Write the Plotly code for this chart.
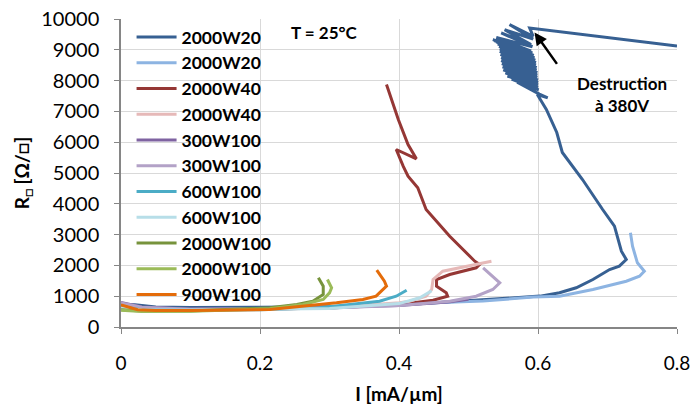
import plotly.graph_objects as go

# ---- data (I in mA/um, R in Ohm/sq) ----
names = ["2000W20", "2000W20", "2000W40", "2000W40", "300W100", "300W100",
         "600W100", "600W100", "2000W100", "2000W100", "900W100"]
colors = ["#376092", "#8DB4E2", "#953735", "#E6B9B8", "#7F63A1", "#B3A2C7",
          "#4BACC6", "#B7DEE8", "#77933C", "#9BBB59", "#E46C0A"]

x_2000W20a = [0, 0.02, 0.05, 0.1, 0.2, 0.3, 0.4, 0.473, 0.545, 0.603, 0.631, 0.655, 0.679, 0.703,
              0.717, 0.727, 0.720, 0.715, 0.710, 0.693, 0.664, 0.635, 0.627, 0.612, 0.599,
              0.614, 0.602, 0.570, 0.601, 0.562, 0.600, 0.556, 0.600, 0.553, 0.600, 0.550, 0.600,
              0.549, 0.599, 0.548, 0.599, 0.547, 0.599, 0.547, 0.598, 0.546, 0.598, 0.545, 0.597,
              0.545, 0.597, 0.544, 0.596, 0.542, 0.595, 0.540, 0.594, 0.537, 0.592, 0.535, 0.590,
              0.540, 0.592, 0.547, 0.590, 0.552, 0.593, 0.559, 0.593, 0.588, 0.8]
y_2000W20a = [720, 720, 650, 630, 640, 660, 712, 809, 906, 1003, 1110, 1273, 1542, 1867,
              1974, 2192, 2461, 2841, 3273, 3815, 4789, 5666, 6315, 7062, 7549,
              7440, 7560, 7950, 7700, 8050, 7780, 8150, 7860, 8250, 7940, 8350, 8020,
              8450, 8100, 8550, 8180, 8650, 8260, 8750, 8340, 8850, 8420, 8950, 8500,
              9030, 8580, 9110, 8660, 9190, 8740, 9260, 8820, 9300, 8900, 9330, 8960,
              9400, 9100, 9550, 9170, 9650, 9350, 9820, 9440, 9710, 9125]

x_2000W20b = [0, 0.03, 0.1, 0.2, 0.3, 0.401, 0.449, 0.521, 0.593, 0.631, 0.679, 0.727, 0.746,
              0.753, 0.743, 0.736, 0.733]
y_2000W20b = [650, 600, 570, 585, 620, 744, 777, 841, 971, 1000, 1218, 1487, 1649,
              1812, 2084, 2623, 3058]

x_2000W40a = [0, 0.03, 0.1, 0.2, 0.3, 0.401, 0.449, 0.470, 0.468, 0.454, 0.454, 0.473, 0.511,
              0.516, 0.509, 0.473, 0.439, 0.427, 0.413, 0.406, 0.396, 0.425, 0.413, 0.399, 0.382]
y_2000W40a = [650, 580, 565, 580, 620, 730, 870, 1000, 1110, 1325, 1542, 1705, 1922,
              2029, 2136, 2948, 3815, 4519, 4896, 5221, 5763, 5461, 5925, 6737, 7873]

x_2000W40b = [0, 0.03, 0.1, 0.2, 0.3, 0.401, 0.415, 0.439, 0.447, 0.449, 0.463, 0.497, 0.533]
y_2000W40b = [620, 570, 560, 580, 630, 786, 838, 1000, 1218, 1542, 1812, 1974, 2136]

x_300W100a = [0, 0.03, 0.1, 0.2, 0.3, 0.4, 0.47, 0.5]
y_300W100a = [800, 650, 585, 595, 630, 700, 810, 900]

x_300W100b = [0, 0.03, 0.1, 0.2, 0.3, 0.401, 0.473, 0.511, 0.535, 0.545, 0.521]
y_300W100b = [780, 640, 575, 585, 620, 698, 838, 1000, 1218, 1435, 1922]

x_600W100a = [0, 0.03, 0.1, 0.2, 0.286, 0.334, 0.372, 0.396, 0.411]
y_600W100a = [640, 560, 545, 560, 623, 730, 838, 1000, 1195]

x_600W100b = [0, 0.03, 0.1, 0.2, 0.3, 0.4, 0.43, 0.447]
y_600W100b = [620, 560, 550, 570, 600, 760, 948, 1180]

x_2000W100a = [0, 0.03, 0.1, 0.214, 0.253, 0.276, 0.291, 0.291, 0.284]
y_2000W100a = [560, 520, 520, 623, 730, 838, 1055, 1325, 1597]

x_2000W100b = [0, 0.03, 0.1, 0.214, 0.262, 0.291, 0.300, 0.303, 0.297]
y_2000W100b = [540, 500, 510, 590, 730, 893, 1110, 1273, 1542]

x_900W100 = [0, 0.024, 0.05, 0.1, 0.214, 0.262, 0.310, 0.348, 0.367, 0.382, 0.379, 0.368]
y_900W100 = [720, 560, 535, 535, 568, 675, 786, 893, 1000, 1325, 1487, 1844]

xs = [x_2000W20a, x_2000W20b, x_2000W40a, x_2000W40b, x_300W100a, x_300W100b,
      x_600W100a, x_600W100b, x_2000W100a, x_2000W100b, x_900W100]
ys = [y_2000W20a, y_2000W20b, y_2000W40a, y_2000W40b, y_300W100a, y_300W100b,
      y_600W100a, y_600W100b, y_2000W100a, y_2000W100b, y_900W100]

x_ticks = [0, 0.2, 0.4, 0.6, 0.8]
x_tick_text = ["0", "0.2", "0.4", "0.6", "0.8"]
y_ticks = [0, 1000, 2000, 3000, 4000, 5000, 6000, 7000, 8000, 9000, 10000]
y_tick_text = ["0", "1000", "2000", "3000", "4000", "5000", "6000", "7000", "8000", "9000", "10000"]

FONT = "Lato, 'Open Sans', sans-serif"

fig = go.Figure()
for n, c, x, y in zip(names, colors, xs, ys):
    fig.add_trace(go.Scatter(x=x, y=y, mode="lines", name=n,
                             line=dict(color=c, width=3)))

fig.add_annotation(x=0.293, y=9560, text="<b>T = 25°C</b>", showarrow=False,
                   font=dict(family=FONT, size=17, color="#000"))
fig.add_annotation(x=0.7215, y=7560, text="<b>Destruction<br>à 380V</b>", showarrow=False,
                   font=dict(family=FONT, size=17, color="#000"))
fig.add_annotation(x=0.595, y=9565, ax=0.633, ay=8360, xref="x", yref="y",
                   axref="x", ayref="y", text=" ", showarrow=True,
                   arrowhead=2, arrowsize=1, arrowwidth=2.5, arrowcolor="#000")

fig.update_layout(
    width=693, height=407,
    margin=dict(l=121, r=16, t=19, b=80, autoexpand=False),
    paper_bgcolor="white", plot_bgcolor="white",
    font=dict(family=FONT, size=20, color="#000"),
    showlegend=True,
    legend=dict(x=0.019, y=1.0, xanchor="left", yanchor="top",
                bgcolor="rgba(0,0,0,0)",
                font=dict(family=FONT, size=17.5, color="#000", weight="bold"),
                itemwidth=40, tracegroupgap=0),
    xaxis=dict(range=[0, 0.8], tickvals=x_ticks, ticktext=x_tick_text,
               tickfont=dict(size=19), automargin=False,
               showgrid=True, gridcolor="#D9D9D9", gridwidth=1,
               showline=True, linecolor="#868686", linewidth=1.5,
               ticks="outside", ticklen=5, tickcolor="#868686",
               ticklabelstandoff=13, zeroline=False,
               title=dict(text="<b>I [mA/µm]</b>", font=dict(family=FONT, size=19), standoff=15)),
    yaxis=dict(range=[0, 10000], tickvals=y_ticks, ticktext=y_tick_text,
               automargin=False,
               showgrid=True, gridcolor="#D9D9D9", gridwidth=1,
               showline=True, linecolor="#868686", linewidth=1.5,
               ticks="outside", ticklen=5, tickcolor="#868686",
               ticklabelstandoff=11, zeroline=False,
               title=dict(text="<b>R<sub>□</sub> [Ω/□]</b>", font=dict(family=FONT, size=19), standoff=7)),
)

fig.write_html("out.html", config={"displayModeBar": False},
               post_script="document.body.style.margin='0';")
